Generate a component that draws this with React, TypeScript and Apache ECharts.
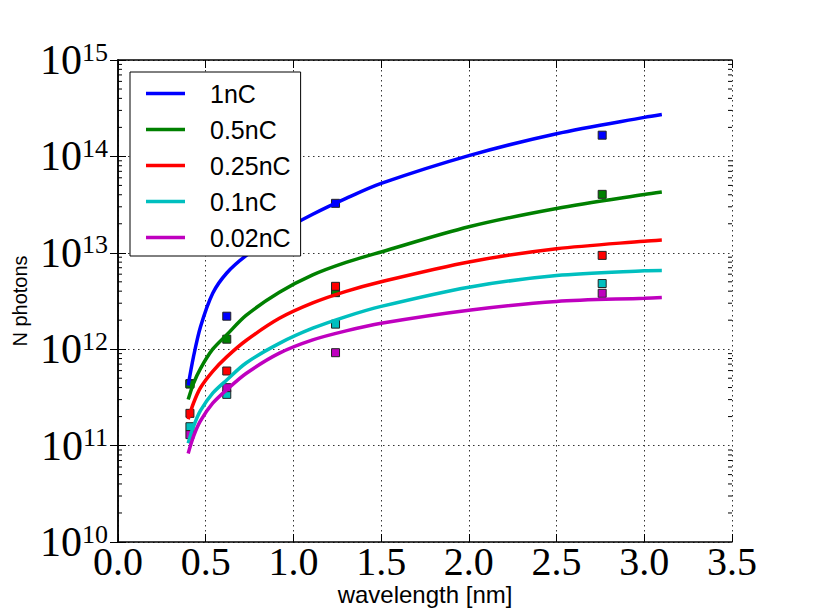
import React, { useEffect, useRef } from "react";
import * as echarts from "echarts";

// ---- data ----
const SERIES_NAMES = ["1nC", "0.5nC", "0.25nC", "0.1nC", "0.02nC"];
const SERIES_COLORS = ["#0000ff", "#008000", "#ff0000", "#00bfbf", "#bf00bf"];

const CURVE_X = [0.4, 0.43, 0.47, 0.54, 0.62, 0.73, 0.92, 1.11, 1.3, 1.5, 2.0, 2.5, 3.0, 3.1];
const CURVE_1NC = [4.2e11, 8.3e11, 1.7e12, 3.8e12, 6.17e12, 9.33e12, 1.62e13, 2.51e13, 3.67e13, 5.25e13, 1.02e14, 1.72e14, 2.54e14, 2.72e14];
const CURVE_05NC = [3.0e11, 4.4e11, 6.3e11, 1.0e12, 1.41e12, 2.24e12, 3.89e12, 5.89e12, 7.94e12, 1.02e13, 1.86e13, 2.88e13, 4.03e13, 4.27e13];
const CURVE_025NC = [1.88e11, 2.75e11, 3.98e11, 5.89e11, 8.32e11, 1.23e12, 2.09e12, 3.02e12, 3.98e12, 5.01e12, 8.04e12, 1.1e13, 1.32e13, 1.36e13];
const CURVE_01NC = [1.06e11, 1.57e11, 2.3e11, 3.5e11, 4.8e11, 7.2e11, 1.15e12, 1.65e12, 2.18e12, 2.78e12, 4.4e12, 5.8e12, 6.5e12, 6.55e12];
const CURVE_002NC = [8.3e10, 1.24e11, 1.8e11, 2.75e11, 3.8e11, 5.6e11, 9.1e11, 1.25e12, 1.55e12, 1.86e12, 2.54e12, 3.13e12, 3.38e12, 3.44e12];

const POINT_X = [0.41, 0.62, 1.24, 2.76];
const POINTS_1NC = [4.4e11, 2.2e12, 3.26e13, 1.66e14];
const POINTS_05NC = [4.35e11, 1.27e12, 3.86e12, 4.04e13];
const POINTS_025NC = [2.16e11, 5.94e11, 4.49e12, 9.4e12];
const POINTS_01NC = [1.57e11, 3.4e11, 1.82e12, 4.8e12];
const POINTS_002NC = [1.3e11, 3.99e11, 9.2e11, 3.8e12];

const X_TICKS = { min: 0, max: 3.5, interval: 0.5 };
const Y_RANGE = { min: 1e10, max: 1e15 };
const DECADES = [1e10, 1e11, 1e12, 1e13, 1e14];
const MINOR_MULTIPLIERS = [2, 3, 4, 5, 6, 7, 8, 9];

const CURVES = [CURVE_1NC, CURVE_05NC, CURVE_025NC, CURVE_01NC, CURVE_002NC];
const POINTS = [POINTS_1NC, POINTS_05NC, POINTS_025NC, POINTS_01NC, POINTS_002NC];

export default function App() {
  const ref = useRef<HTMLDivElement>(null);

  useEffect(() => {
    if (!ref.current) return;
    const chart = echarts.init(ref.current, undefined, { renderer: "svg" });

    const minorTicks: number[][] = [];
    DECADES.forEach((d) => MINOR_MULTIPLIERS.forEach((m) => minorTicks.push([0, d * m])));

    const series: any[] = [];
    SERIES_NAMES.forEach((name, i) => {
      series.push({
        name,
        type: "line",
        data: CURVE_X.map((x, j) => [x, CURVES[i][j]]),
        showSymbol: false,
        symbol: "none",
        smooth: 0.3,
        color: SERIES_COLORS[i],
        lineStyle: { color: SERIES_COLORS[i], width: 3.5 },
        itemStyle: { color: SERIES_COLORS[i] },
        clip: false,
      });
      series.push({
        name: name + " data",
        type: "scatter",
        data: POINT_X.map((x, j) => [x, POINTS[i][j]]),
        symbol: "rect",
        symbolSize: 8,
        itemStyle: { color: SERIES_COLORS[i], borderColor: "#222", borderWidth: 1, opacity: 1 },
      });
    });

    series.push({
      name: "minor ticks",
      type: "custom",
      silent: true,
      clip: false,
      data: minorTicks,
      renderItem: (params: any, api: any) => {
        const cs = params.coordSys;
        const p = api.coord([0, api.value(1)]);
        const y = p[1];
        const l = cs.x;
        const r = cs.x + cs.width;
        return {
          type: "group",
          children: [
            { type: "line", shape: { x1: l, y1: y, x2: l + 4, y2: y }, style: { stroke: "#000", lineWidth: 1 } },
            { type: "line", shape: { x1: r - 4, y1: y, x2: r, y2: y }, style: { stroke: "#000", lineWidth: 1 } },
          ],
        };
      },
    });

    const axisLine = { show: true, lineStyle: { color: "#000", width: 1.5 } };
    const axisTick = { show: true, inside: true, length: 8, lineStyle: { color: "#000", width: 1 } };
    const splitLine = { show: true, lineStyle: { color: "#333", width: 1, type: [1.5, 3.5] } };

    chart.setOption({
      animation: false,
      backgroundColor: "#fff",
      grid: { left: 118, right: 81, top: 60, bottom: 71, outerBoundsMode: "none", containLabel: false },
      legend: {
        data: SERIES_NAMES.map((n) => ({ name: n, icon: "rect" })),
        orient: "vertical",
        left: 130,
        top: 72,
        padding: [9, 10, 6, 16],
        itemGap: 11,
        itemWidth: 39,
        itemHeight: 3.5,
        backgroundColor: "#fff",
        borderColor: "#000",
        borderWidth: 1,
        z: 10,
        selectedMode: false,
        textStyle: {
          fontFamily: "Liberation Sans",
          fontSize: 25,
          lineHeight: 25,
          color: "#000",
          padding: [0, 0, 0, 20],
        },
      },
      xAxis: [
        {
          type: "value",
          min: X_TICKS.min,
          max: X_TICKS.max,
          interval: X_TICKS.interval,
          position: "bottom",
          axisLine,
          axisTick,
          splitLine,
          axisLabel: {
            margin: 6,
            fontFamily: "Liberation Serif",
            fontSize: 40,
            lineHeight: 26,
            color: "#000",
            formatter: (v: number) => v.toFixed(1),
          },
          name: "wavelength [nm]",
          nameLocation: "middle",
          nameGap: 40,
          nameMoveOverlap: false,
          nameTextStyle: { fontFamily: "Liberation Sans", fontSize: 24, color: "#000" },
        },
        {
          type: "value",
          min: X_TICKS.min,
          max: X_TICKS.max,
          interval: X_TICKS.interval,
          position: "top",
          axisLine,
          axisTick,
          splitLine: { show: false },
          axisLabel: { show: false },
        },
      ],
      yAxis: [
        {
          type: "log",
          logBase: 10,
          min: Y_RANGE.min,
          max: Y_RANGE.max,
          position: "left",
          axisLine,
          axisTick,
          splitLine,
          axisLabel: {
            margin: 10,
            color: "#000",
            formatter: (v: number) => "{b|10}{s|" + Math.round(Math.log10(v)) + "}",
            rich: {
              b: { fontFamily: "Liberation Serif", fontSize: 42, lineHeight: 42, color: "#000" },
              s: { fontFamily: "Liberation Serif", fontSize: 26, lineHeight: 26, color: "#000", verticalAlign: "top" },
            },
          },
          name: "N photons",
          nameLocation: "middle",
          nameRotate: 90,
          nameGap: 88,
          nameMoveOverlap: false,
          nameTextStyle: { fontFamily: "Liberation Sans", fontSize: 20, color: "#000" },
        },
        {
          type: "log",
          logBase: 10,
          min: Y_RANGE.min,
          max: Y_RANGE.max,
          position: "right",
          axisLine,
          axisTick,
          splitLine: { show: false },
          axisLabel: { show: false },
        },
      ],
      series,
    });

    return () => chart.dispose();
  }, []);

  return <div ref={ref} style={{ position: "fixed", left: 0, top: 0, width: 813, height: 613 }} />;
}
